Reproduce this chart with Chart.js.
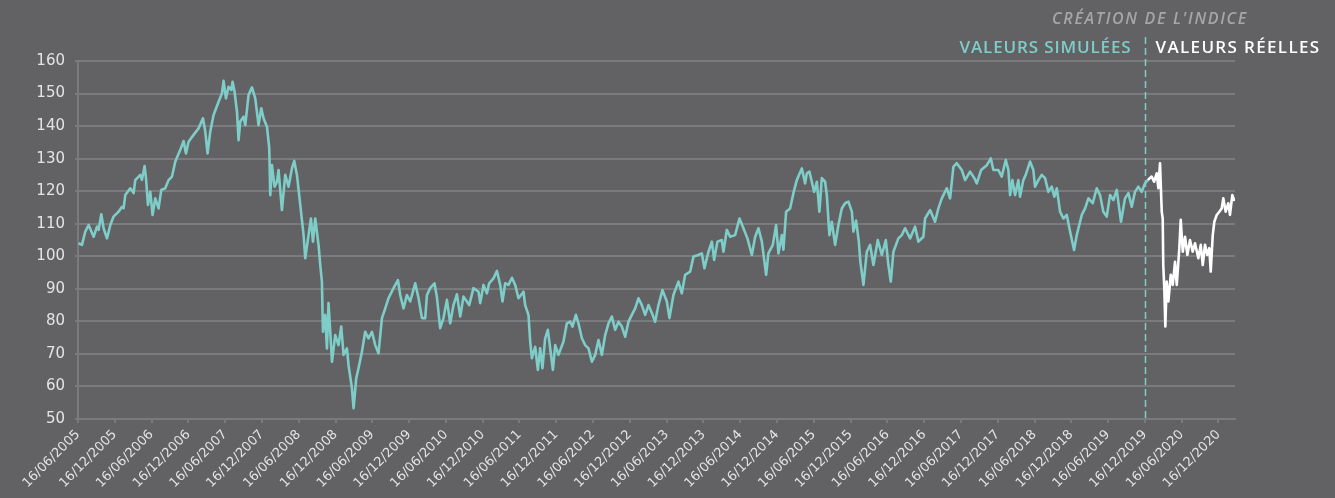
<!DOCTYPE html>
<html>
<head>
<meta charset="utf-8">
<script src="https://cdn.jsdelivr.net/npm/chart.js@4"></script>
<style>
html, body { margin: 0; padding: 0; background: #626264; }
#wrap { width: 1335px; height: 498px; }
</style>
</head>
<body>
<div id="wrap"><canvas id="perfChart" width="1335" height="498"></canvas></div>
<script>
// x = months since 16/06/2005, y = index level
const tickLabels = [
    '16/06/2005', '16/12/2005', '16/06/2006', '16/12/2006', '16/06/2007', '16/12/2007',
    '16/06/2008', '16/12/2008', '16/06/2009', '16/12/2009', '16/06/2010', '16/12/2010',
    '16/06/2011', '16/12/2011', '16/06/2012', '16/12/2012', '16/06/2013', '16/12/2013',
    '16/06/2014', '16/12/2014', '16/06/2015', '16/12/2015', '16/06/2016', '16/12/2016',
    '16/06/2017', '16/12/2017', '16/06/2018', '16/12/2018', '16/06/2019', '16/12/2019',
    '16/06/2020', '16/12/2020'
];
const monthsPerTick = 6;
const lastMonth = 188.7;
const indexCreation = 174; // 16/12/2019

const yTicks = [50, 60, 70, 80, 90, 100, 110, 120, 130, 140, 150, 160];

const simulated = [
    [0.1,104.0],[0.65,103.5],[1.19,107.6],[1.73,109.6],[2.55,106.0],[3.1,109.1],[3.36,108.1],[3.8,112.9],
    [4.17,108.6],[4.73,105.5],[5.27,109.6],[5.8,112.2],[6.62,113.7],[7.17,115.2],[7.44,114.8],[7.71,118.8],
    [8.53,120.9],[9.07,119.4],[9.34,123.4],[10.16,125.0],[10.43,123.5],[10.86,127.7],[11.09,124.0],[11.41,115.8],
    [11.79,119.8],[12.16,112.7],[12.6,117.8],[13.14,114.7],[13.58,120.4],[14.23,120.9],[14.77,123.4],[15.33,124.5],
    [15.87,129.1],[16.68,132.7],[17.22,135.4],[17.61,131.6],[18.03,135.2],[18.85,137.3],[19.66,139.3],[20.38,142.4],
    [20.76,138.3],[21.13,131.6],[21.57,138.3],[22.11,143.4],[22.93,147.5],[23.48,150.1],[23.74,153.9],[24.13,148.5],
    [24.56,152.1],[25.0,151.1],[25.21,153.6],[25.53,150.6],[25.93,144.4],[26.19,135.7],[26.46,141.4],[27.0,142.9],
    [27.28,140.3],[27.82,149.6],[28.37,151.9],[28.91,148.5],[29.45,140.3],[29.89,145.5],[30.26,142.4],[30.82,139.8],
    [31.19,133.2],[31.36,118.8],[31.63,128.0],[32.06,121.4],
    [32.45,122.9],[32.71,126.5],[33.26,114.2],[33.8,125.0],[34.34,121.4],[34.89,127.0],[35.27,129.3],[35.71,125.0],
    [36.25,115.8],[36.79,106.5],[37.06,99.4],[37.6,106.5],[37.99,111.6],[38.32,104.5],[38.69,111.6],[39.23,103.5],
    [39.51,97.3],[39.78,92.2],[39.95,76.8],[40.32,82.0],[40.6,71.7],[40.86,85.6],[41.14,76.8],[41.42,67.6],
    [41.95,75.8],[42.49,72.7],[42.93,78.4],[43.31,69.7],[43.86,71.7],[44.12,66.6],[44.68,59.4],[44.94,53.3],
    [45.38,62.5],[45.75,65.6],[46.31,70.7],[46.84,76.8],[47.38,74.8],[47.94,76.8],[48.48,72.7],[49.01,70.2],
    [49.57,81.0],[50.11,84.0],[50.64,87.1],[51.46,90.2],[52.18,92.7],[52.55,88.1],[53.09,84.0],[53.64,88.1],
    [54.18,86.1],[55.0,91.7],[55.54,87.1],[56.09,81.0],[56.63,81.0],[56.91,88.1],[57.44,90.2],[58.14,91.7],
    [58.54,87.4],[59.07,77.9],[59.61,81.0],[60.17,86.6],[60.7,79.4],[61.24,85.0],[61.8,88.3],[62.34,81.5],
    [62.87,87.6],[63.43,86.1],
    [63.8,85.0],[64.5,90.2],[65.32,89.1],[65.6,85.6],[66.13,91.2],[66.69,88.6],[67.06,91.7],[67.76,93.2],
    [68.32,95.5],[68.86,91.2],[69.23,86.1],[69.67,91.7],[70.21,91.2],[70.77,93.4],[71.3,91.2],[71.84,87.1],
    [72.66,89.1],[72.93,85.0],[73.47,82.0],[73.75,73.8],[74.03,68.7],[74.56,72.2],[75.0,65.1],[75.38,71.7],
    [75.75,65.6],[76.19,74.8],[76.63,77.4],[77.01,71.7],[77.45,65.1],[77.83,72.7],[78.36,69.7],[79.18,73.8],
    [79.73,79.4],[80.27,79.9],[80.65,78.4],[81.2,82.0],[81.62,79.4],[82.18,74.8],[82.72,72.7],[83.26,71.7],
    [83.81,67.6],[84.35,69.7],[84.89,74.3],[85.44,69.7],[85.98,75.8],[86.52,79.4],[87.07,81.5],[87.61,77.4],
    [88.15,79.9],[88.7,78.4],[89.24,75.3],[89.78,79.9],[90.33,82.0],[90.87,84.0],[91.41,87.1],[91.96,85.0],
    [92.5,82.0],[93.04,85.0],[93.59,82.6],[94.13,79.9],[94.67,85.0],[95.32,89.6],
    [96.04,86.1],[96.46,81.0],[97.11,88.1],[97.93,92.2],[98.48,88.6],[99.02,94.3],[99.84,95.3],[100.38,99.9],
    [101.19,100.4],[101.74,100.9],[102.17,96.3],[102.82,101.4],[103.38,104.5],[103.75,98.9],[104.29,104.5],[105.0,105.0],
    [105.27,101.4],[105.82,108.1],[106.36,106.0],[107.17,106.5],[107.88,111.6],[108.53,108.6],[109.18,105.5],[109.9,100.4],
    [110.44,106.0],[110.98,108.6],[111.53,104.5],[112.23,94.3],[112.6,100.9],[113.32,103.5],[113.86,109.6],[114.24,100.9],
    [114.79,106.5],[115.05,102.0],[115.49,113.7],[116.14,114.7],[116.68,119.4],[117.23,123.4],[118.05,127.0],[118.59,122.4],
    [118.87,125.5],[119.29,126.0],[120.06,119.8],[120.5,122.9],[120.92,113.7],[121.31,124.0],[121.85,122.9],[122.13,118.8],
    [122.55,106.5],[122.94,110.6],[123.48,103.5],[124.02,109.6],[124.57,114.7],[125.11,116.3],[125.65,116.8],[126.21,113.7],
    [126.47,107.6],[126.9,111.0],[127.35,104.5],[127.6,98.3],
    [128.1,91.2],[128.65,101.4],[129.19,103.5],[129.73,97.3],[130.44,105.0],[131.1,100.4],[131.75,105.0],[132.17,97.3],
    [132.56,92.2],[132.99,101.4],[133.8,105.5],[134.35,106.5],[134.89,108.6],[135.71,105.5],[136.52,109.1],[137.06,104.5],
    [137.88,106.0],[138.15,111.6],[138.97,114.2],[139.78,110.6],[140.32,114.7],[140.88,117.8],[141.69,120.9],[142.23,117.8],
    [142.77,127.5],[143.32,128.6],[144.14,126.5],[144.68,123.4],[145.49,126.0],[146.19,124.0],[146.59,122.4],[147.29,126.5],
    [148.22,128.0],[148.87,130.1],[149.29,126.5],[150.11,126.5],[150.66,124.5],[151.31,129.6],[151.74,126.5],[152.02,118.8],
    [152.39,123.4],[152.83,118.8],[153.37,123.4],[153.64,118.3],[154.18,123.4],[154.57,125.0],[155.27,129.1],[155.81,126.5],
    [156.09,121.4],[156.63,123.4],[157.18,125.0],[157.72,124.0],[158.26,119.8],[158.81,121.4],[159.24,118.3],
    [159.63,120.9],[160.17,113.7],[160.71,111.6],[161.26,112.7],[161.8,107.6],[162.45,101.9],[162.89,106.5],[163.71,112.7],
    [164.25,114.7],[164.79,117.8],[165.5,116.3],[166.15,120.9],[166.69,118.8],[167.23,113.7],[167.78,112.2],[168.32,118.8],
    [168.86,117.3],[169.41,120.4],[170.11,110.6],[170.76,117.8],[171.31,119.4],[171.86,115.2],[172.39,119.8],[172.93,121.4],
    [173.48,119.8],[174.02,122.4],[174.47,123.4]
];

const real = [
    [174.47,123.4],[175.1,124.5],[175.5,122.9],[175.93,125.5],[176.2,120.9],[176.47,128.6],[176.75,113.7],[176.91,111.6],
    [177.0,97.3],[177.17,90.2],[177.34,78.4],[177.56,92.2],[177.83,86.1],[178.22,94.3],[178.55,91.2],[178.92,98.3],
    [179.2,91.2],[179.62,102.5],[179.85,111.2],[180.18,101.4],[180.55,106.0],[180.93,100.4],[181.36,105.0],[181.8,101.4],
    [182.18,104.0],[182.72,99.4],[183.11,103.5],[183.44,97.3],[183.81,103.5],[184.18,100.4],[184.51,102.5],[184.74,95.3],
    [185.07,106.5],[185.33,110.6],[185.72,112.7],[186.14,113.7],[186.53,114.7],[186.79,117.8],[187.18,113.7],[187.61,116.3],
    [187.88,112.7],[188.26,118.8],[188.54,117.3],[188.7,117.8]
];

const teal = '#7ecdc8';
const gridColor = '#7a7b7d';
const bgColor = '#626264';

// draws text stretched to a given width with letter spacing
function spacedText(ctx, text, x, y, align, width) {
    ctx.letterSpacing = '0px';
    const w = ctx.measureText(text).width;
    const sp = Math.max(0, (width - w) / text.length);
    ctx.letterSpacing = sp + 'px';
    const full = ctx.measureText(text).width;
    const left = align === 'right' ? x - full : x;
    ctx.textAlign = 'left';
    ctx.fillText(text, left, y);
    ctx.letterSpacing = '0px';
}

const annotations = {
    id: 'annotations',
    beforeDraw(chart) {
        const ctx = chart.ctx;
        ctx.save();
        ctx.fillStyle = bgColor;
        ctx.fillRect(0, 0, chart.width, chart.height);
        ctx.restore();
    },
    afterDatasetsDraw(chart) {
        const ctx = chart.ctx;
        const x = Math.round(chart.scales.x.getPixelForValue(indexCreation)) + 0.5;
        ctx.save();
        ctx.strokeStyle = teal;
        ctx.lineWidth = 1.5;
        ctx.setLineDash([7, 4]);
        ctx.beginPath();
        ctx.moveTo(x, 37);
        ctx.lineTo(x, chart.chartArea.bottom);
        ctx.stroke();
        ctx.setLineDash([]);

        ctx.textBaseline = 'alphabetic';
        ctx.font = "italic 600 16px 'Open Sans'";
        ctx.fillStyle = '#a6a6a8';
        spacedText(ctx, "CRÉATION DE L'INDICE", 1248, 23.5, 'right', 196);

        ctx.font = "600 17px 'Open Sans'";
        ctx.fillStyle = teal;
        spacedText(ctx, 'VALEURS SIMULÉES', x - 14, 52.5, 'right', 172);
        ctx.fillStyle = '#ffffff';
        spacedText(ctx, 'VALEURS RÉELLES', x + 10, 52.5, 'left', 165);
        ctx.restore();
    }
};

const ctx = document.getElementById('perfChart').getContext('2d');
const perfChart = new Chart(ctx, {
    type: 'line',
    data: {
        datasets: [{
            label: 'Valeurs simulées',
            data: simulated.map(p => ({ x: p[0], y: p[1] })),
            borderColor: teal,
            borderWidth: 2.6,
            pointRadius: 0,
            tension: 0,
            borderJoinStyle: 'round'
        }, {
            label: 'Valeurs réelles',
            data: real.map(p => ({ x: p[0], y: p[1] })),
            borderColor: '#ffffff',
            borderWidth: 2.6,
            pointRadius: 0,
            tension: 0,
            borderJoinStyle: 'round'
        }]
    },
    options: {
        responsive: false,
        animation: false,
        devicePixelRatio: 1,
        layout: { padding: { top: 61, right: 100, left: 0, bottom: 0 } },
        plugins: {
            legend: { display: false },
            tooltip: { enabled: false }
        },
        scales: {
            x: {
                type: 'linear',
                min: 0,
                max: lastMonth,
                afterBuildTicks: (scale) => {
                    scale.ticks = tickLabels.map((_, i) => ({ value: i * monthsPerTick }));
                },
                afterFit: (scale) => { scale.height = 79; },
                ticks: {
                    autoSkip: false,
                    minRotation: 45,
                    maxRotation: 45,
                    padding: 4,
                    color: '#e4e4e6',
                    font: { family: 'DejaVu Sans', size: 13 },
                    callback: (value, index) => tickLabels[index]
                },
                grid: { drawOnChartArea: false, drawTicks: true, tickLength: 4, color: gridColor, lineWidth: 2 },
                border: { color: gridColor, width: 2 }
            },
            y: {
                min: 50,
                max: 160,
                afterBuildTicks: (scale) => {
                    scale.ticks = yTicks.map(v => ({ value: v }));
                },
                afterFit: (scale) => { scale.width = 78; },
                ticks: {
                    padding: 10,
                    color: '#e4e4e6',
                    font: { family: 'DejaVu Sans', size: 15 }
                },
                grid: { color: gridColor, lineWidth: 2, tickLength: 3 },
                border: { color: gridColor, width: 2 }
            }
        }
    },
    plugins: [annotations]
});
</script>
</body>
</html>
